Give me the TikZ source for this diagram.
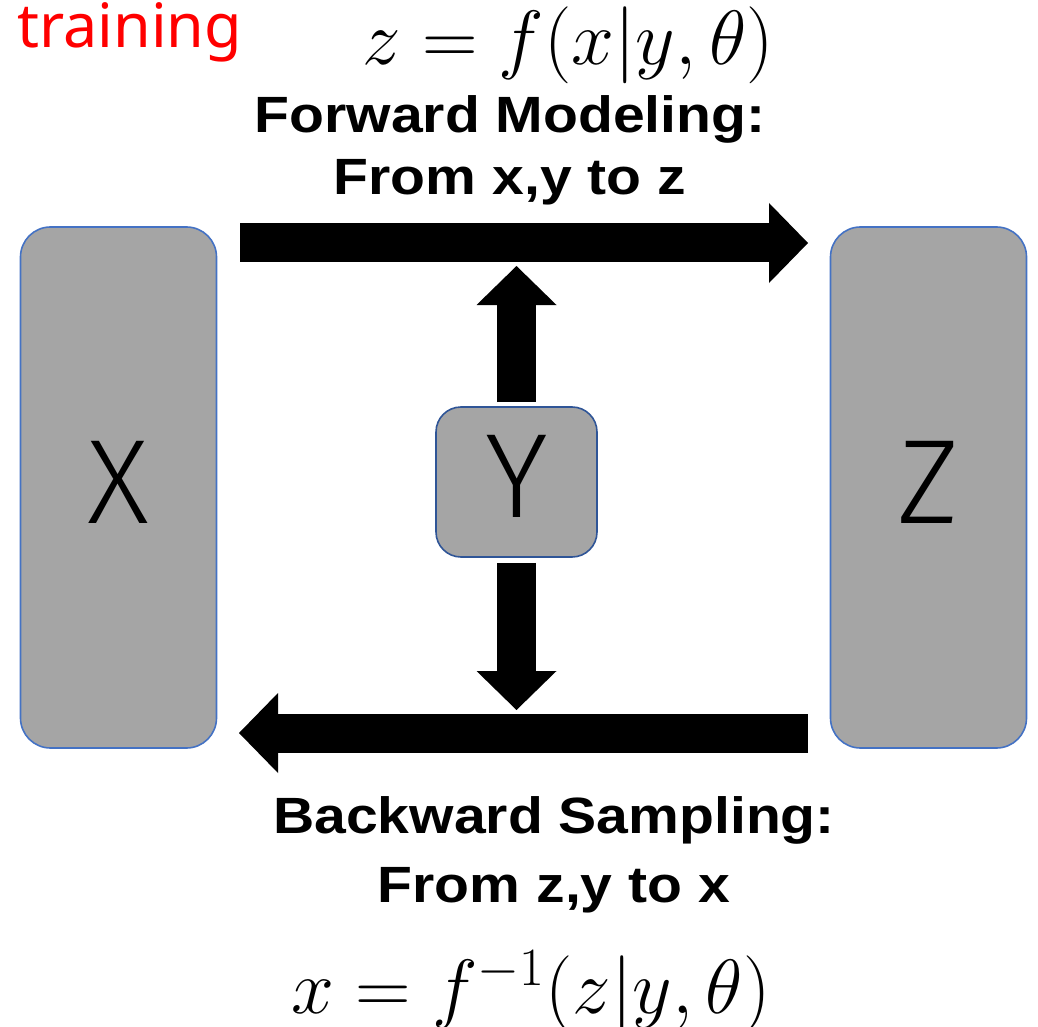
\RequirePackage{fix-cm}
\documentclass[tikz,border=0pt]{standalone}
\usepackage{fontspec}
\usepackage{tikz}
\usetikzlibrary{arrows.meta,calc}
\newfontfamily\lblfont[FakeStretch=1.12]{Liberation Sans}
\newfontfamily\letterfont{Fira Sans Light}
\newfontfamily\tagfont{Noto Sans}
\definecolor{boxfill}{HTML}{A5A5A5}
\definecolor{boxline}{HTML}{4472C4}
\definecolor{yline}{HTML}{2F5597}
\definecolor{tagred}{HTML}{FF0000}

\begin{document}
\begin{tikzpicture}[x=0.5pt, y=-0.5pt,
  box/.style={draw=boxline, line width=0.8pt, fill=boxfill, rounded corners=15pt,
    inner sep=0pt, text depth=5pt, font=\letterfont\fontsize{60}{60}\selectfont},
  blk/.style={line width=19.5pt, -{Triangle[length=19.5pt, width=40pt, line width=0pt]}},
  lbl/.style={anchor=base, font=\lblfont\bfseries\fontsize{25.5}{30}\selectfont},
  eq/.style={anchor=base, inner sep=0pt, font=\fontsize{38.5}{46}\selectfont}]
  \clip (0,0) rectangle (1038,1027);

  % boxes
  \node[box, minimum width=98pt, minimum height=260.5pt] (X) at (118.5,487.5) {X};
  \node[box, minimum width=98pt, minimum height=260.5pt] (Z) at (928.5,487.5) {Z};
  \node[box, draw=yline, rounded corners=12.5pt, text depth=5.5pt,
    minimum width=80.5pt, minimum height=75pt] (Y) at (516.5,482) {Y};

  % texts
  \node[anchor=base west, inner sep=0pt, text=tagred,
    font=\tagfont\fontsize{30.5}{36}\selectfont] (tag) at (17,48) {training};
  \node[eq] (fwdEq) at (568,65) {$z = f(x|y,\theta)$};
  \node[lbl] (fwdA) at (510,133) {Forward Modeling:};
  \node[lbl] (fwdB) at (510,195) {From x,y to z};
  \node[lbl] (bwdA) at (554,833) {Backward Sampling:};
  \node[lbl] (bwdB) at (554,902) {From z,y to x};
  \node[eq] (bwdEq) at (531,1013) {$x = f^{-1}(z|y,\theta)$};

  % arrows
  \coordinate (fwdS) at (240,243);
  \coordinate (fwdE) at (808,243);
  \coordinate (bwdS) at (808,733);
  \coordinate (bwdE) at (239,733);
  \draw[blk] (fwdS) -- (fwdE);
  \draw[blk] (bwdS) -- (bwdE);
  \draw[blk] ([yshift=2pt]Y.north) -- ($(fwdE -| Y.north)+(0,23)$);
  \draw[blk] ([yshift=-2.5pt]Y.south) -- ($(bwdS -| Y.south)+(0,-23)$);
\end{tikzpicture}
\end{document}
